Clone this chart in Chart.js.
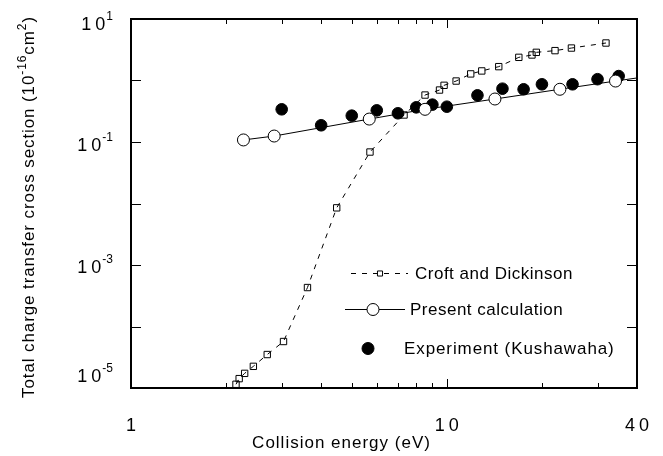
<!DOCTYPE html>
<html>
<head>
<meta charset="utf-8">
<script src="https://cdn.jsdelivr.net/npm/chart.js@4/dist/chart.umd.min.js"></script>
<style>
  html, body { margin: 0; padding: 0; background: #fff; }
  canvas { display: block; }
</style>
</head>
<body>
<canvas id="chart" width="663" height="456"></canvas>
<script>
// Croft and Dickinson: charge transfer cross section (1e-16 cm^2) vs collision energy (eV)
const croftEnergy = [2.15, 2.20, 2.29, 2.44, 2.70, 3.04, 3.62, 4.48, 5.71, 7.32, 8.53, 9.48, 9.80, 10.7, 11.9, 12.9, 14.6, 16.9, 18.6, 19.2, 22.0, 24.8, 31.9];
const croftSigma  = [1.15e-5, 1.42e-5, 1.73e-5, 2.25e-5, 3.5e-5, 5.7e-5, 4.3e-4, 8.5e-3, 0.0687, 0.275, 0.58, 0.70, 0.835, 0.98, 1.28, 1.43, 1.68, 2.38, 2.60, 2.87, 3.06, 3.37, 4.07];

// Present calculation (computed points), curve continued to the 40 eV edge
const calcEnergy = [2.27, 2.84, 5.68, 8.53, 14.2, 22.8, 34.2];
const calcSigma  = [0.108, 0.125, 0.236, 0.34, 0.50, 0.72, 0.98];
const calcTailEnergy = [40];
const calcTailSigma  = [1.1];

// Experiment (Kushawaha)
const expEnergy = [3, 4, 5, 6, 7, 8, 9, 10, 12.5, 15, 17.5, 20, 25, 30, 35];
const expSigma  = [0.34, 0.187, 0.268, 0.327, 0.293, 0.366, 0.405, 0.375, 0.574, 0.736, 0.72, 0.867, 0.867, 1.05, 1.18];

// Axis ticks and labels
const xTickValues = [2, 3, 4, 5, 6, 7, 8, 9, 10, 20, 30];
const xLabelValues = [1, 10, 40];
const xLabelTexts  = ['1', '10', '40'];
const yTickValues = [1, 0.1, 0.01, 0.001, 1e-4];
const yLabelValues = [10, 0.1, 0.001, 1e-5];
const yLabelExponents = ['1', '-1', '-3', '-5'];

const FONT = '"Liberation Sans", Arial, Helvetica, sans-serif';

function pts(xs, ys) { return xs.map((x, i) => ({ x: x, y: ys[i] })); }

function spacedText(ctx, text, x, y, size, spacing, align) {
  ctx.font = size + 'px ' + FONT;
  ctx.letterSpacing = spacing + 'px';
  const w = ctx.measureText(text).width - spacing;
  const sx = align === 'center' ? x - w / 2 : (align === 'right' ? x - w : x);
  ctx.textAlign = 'left';
  ctx.fillText(text, sx, y);
  ctx.letterSpacing = '0px';
  return w;
}

const frame = {
  id: 'frame',
  afterDatasetsDraw(chart) {
    const { ctx, chartArea: a, scales: { x, y } } = chart;
    ctx.save();
    ctx.fillStyle = '#000';
    ctx.strokeStyle = '#000';

    // inward tick marks on all four sides
    ctx.lineWidth = 1;
    ctx.beginPath();
    xTickValues.forEach(v => {
      const px = Math.round(x.getPixelForValue(v)) + 0.5;
      const len = v === 10 ? 9 : 5;
      ctx.moveTo(px, a.bottom); ctx.lineTo(px, a.bottom - len);
      ctx.moveTo(px, a.top); ctx.lineTo(px, a.top + len);
    });
    yTickValues.forEach(v => {
      const py = Math.round(y.getPixelForValue(v)) + 0.5;
      ctx.moveTo(a.left, py); ctx.lineTo(a.left + 10, py);
      ctx.moveTo(a.right, py); ctx.lineTo(a.right - 10, py);
    });
    ctx.stroke();

    // frame
    ctx.lineWidth = 2;
    ctx.strokeRect(a.left, a.top, a.right - a.left, a.bottom - a.top);

    // x tick labels
    ctx.textBaseline = 'alphabetic';
    xLabelValues.forEach((v, i) => {
      const px = x.getPixelForValue(v);
      spacedText(ctx, xLabelTexts[i], px, 431, 18, 4, 'center');
    });

    // y tick labels: 10 with superscript exponent
    const yShift = [11, 9, 8, -6];
    yLabelValues.forEach((v, i) => {
      const py = y.getPixelForValue(v) + yShift[i];
      ctx.font = '12px ' + FONT;
      const ew = ctx.measureText(yLabelExponents[i]).width;
      const right = 113;
      ctx.textAlign = 'left';
      ctx.fillText(yLabelExponents[i], right - ew, py - 10);
      spacedText(ctx, '10', right - ew - 1, py, 18, 4, 'right');
    });

    // x axis title
    spacedText(ctx, 'Collision energy (eV)', 341, 448, 17, 1, 'center');

    // y axis title (rotated, with superscripts)
    ctx.save();
    ctx.translate(34, 207);
    ctx.rotate(-Math.PI / 2);
    const parts = [
      ['Total charge transfer cross section (10', 17, 0],
      ['-16', 12, -8],
      ['cm', 17, 0],
      ['2', 12, -8],
      [')', 17, 0]
    ];
    const sp = 0.9;
    let total = 0;
    parts.forEach(p => { ctx.font = p[1] + 'px ' + FONT; ctx.letterSpacing = sp + 'px'; total += ctx.measureText(p[0]).width; });
    let cx = -total / 2;
    ctx.textAlign = 'left';
    parts.forEach(p => {
      ctx.font = p[1] + 'px ' + FONT;
      ctx.letterSpacing = sp + 'px';
      ctx.fillText(p[0], cx, p[2]);
      cx += ctx.measureText(p[0]).width;
    });
    ctx.letterSpacing = '0px';
    ctx.restore();

    // legend, styled from the datasets
    const ds = chart.data.datasets;
    const rows = [
      { d: ds[0], y: 273, line: [351, 408], mark: 380, r: 3.6, text: 415, sp: 0.5 },
      { d: ds[1], y: 309, line: [345, 405], mark: 373, r: 6, text: 410, sp: 0.5 },
      { d: ds[2], y: 348, line: null, mark: 368, r: 6, text: 404, sp: 0.9 }
    ];
    rows.forEach(r => {
      if (r.line) {
        ctx.save();
        ctx.lineWidth = r.d.borderWidth;
        ctx.setLineDash(r.d.borderDash || []);
        ctx.beginPath();
        ctx.moveTo(r.line[0], r.y + 0.5); ctx.lineTo(r.line[1], r.y + 0.5);
        ctx.stroke();
        ctx.restore();
      }
      ctx.save();
      ctx.fillStyle = r.d.pointBackgroundColor;
      ctx.strokeStyle = r.d.pointBorderColor;
      ctx.lineWidth = r.d.pointBorderWidth;
      Chart.helpers.drawPoint(ctx, {
        pointStyle: r.d.pointStyle, rotation: 0, radius: r.r, borderWidth: r.d.pointBorderWidth
      }, r.mark, r.y + 0.5);
      ctx.restore();
      ctx.fillStyle = '#000';
      ctx.textBaseline = 'middle';
      spacedText(ctx, r.d.label, r.text, r.y + 1, 17, r.sp, 'left');
      ctx.textBaseline = 'alphabetic';
    });

    ctx.restore();
  }
};

new Chart(document.getElementById('chart'), {
  type: 'scatter',
  data: {
    datasets: [
      {
        label: 'Croft and Dickinson',
        data: pts(croftEnergy, croftSigma),
        showLine: true,
        borderColor: '#000',
        borderWidth: 1,
        borderDash: [5, 6],
        pointStyle: 'rect',
        pointRadius: 4.5,
        pointBorderWidth: 1,
        pointBorderColor: '#000',
        pointBackgroundColor: 'rgba(255,255,255,0)',
        clip: false
      },
      {
        label: 'Present calculation',
        data: pts(calcEnergy.concat(calcTailEnergy), calcSigma.concat(calcTailSigma)),
        showLine: true,
        borderColor: '#000',
        borderWidth: 1,
        pointStyle: 'circle',
        pointRadius: calcEnergy.map(() => 6).concat(calcTailEnergy.map(() => 0)),
        pointBorderWidth: 1,
        pointBorderColor: '#000',
        pointBackgroundColor: '#fff',
        clip: false
      },
      {
        label: 'Experiment (Kushawaha)',
        data: pts(expEnergy, expSigma),
        showLine: false,
        pointStyle: 'circle',
        pointRadius: 5.8,
        pointBorderWidth: 1,
        pointBorderColor: '#000',
        pointBackgroundColor: '#000',
        clip: false
      }
    ]
  },
  options: {
    responsive: false,
    animation: false,
    devicePixelRatio: 1,
    events: [],
    layout: { padding: { left: 131, top: 19, right: 26, bottom: 68 } },
    plugins: { legend: { display: false }, tooltip: { enabled: false } },
    scales: {
      x: { type: 'logarithmic', min: 1, max: 40, display: false },
      y: { type: 'logarithmic', min: 1e-5, max: 10, display: false }
    }
  },
  plugins: [frame]
});
</script>
</body>
</html>
